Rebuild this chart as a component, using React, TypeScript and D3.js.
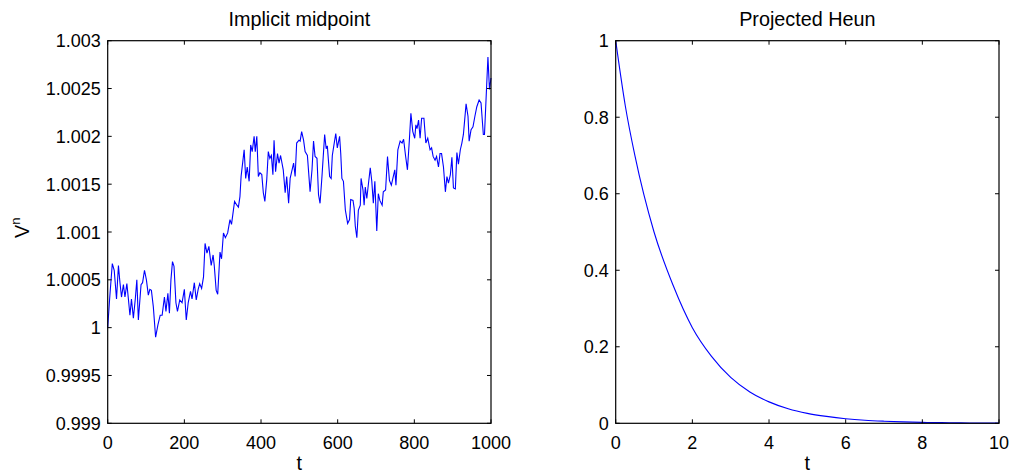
import React from 'react';
import * as d3 from 'd3';

// Implicit midpoint: t and V^n
const midT = [
    0, 5, 12, 17, 23, 28, 32, 36, 41, 45, 50, 54, 58, 62, 67, 72, 76, 80, 87, 91,
    96, 101, 106, 110, 114, 119, 125, 131, 137, 142, 148, 152, 157, 161, 165, 169, 173, 178, 182, 188,
    194, 200, 205, 210, 216, 220, 226, 231, 236, 240, 245, 250, 254, 259, 264, 270, 275, 278, 283, 287,
    293, 297, 302, 307, 313, 319, 323, 331, 337, 341, 345, 348, 352, 356, 360, 364, 369, 373, 377, 382,
    385, 389, 393, 397, 402, 406, 410, 415, 419, 423, 427, 431, 434, 438, 443, 447, 451, 458, 463, 467,
    472, 476, 480, 485, 489, 493, 499, 502, 506, 511, 515, 521, 528, 533, 537, 541, 546, 550, 554, 559,
    566, 570, 573, 579, 583, 586, 591, 595, 599, 605, 608, 611, 615, 620, 626, 631, 634, 640, 643, 646,
    650, 654, 659, 661, 666, 669, 672, 676, 679, 685, 689, 693, 697, 702, 706, 710, 716, 719, 725, 730,
    735, 740, 744, 749, 752, 757, 763, 768, 772, 777, 782, 787, 791, 796, 801, 804, 807, 811, 815, 819,
    825, 830, 835, 841, 845, 849, 854, 858, 863, 867, 871, 876, 881, 885, 889, 894, 898, 902, 907, 911,
    915, 920, 924, 928, 935, 940, 943, 948, 953, 958, 963, 969, 974, 980, 983, 987, 992, 996, 1000
];
const midV = [
    1.0000, 1.0003, 1.00067, 1.0006, 1.0003, 1.00065, 1.00047, 1.00032, 1.00045, 1.00032, 1.00046, 1.0003, 1.00013, 1.0003, 1.0001, 1.0003, 1.0005, 1.00008, 1.00045, 1.00047,
    1.0006, 1.0005, 1.00034, 1.0004, 1.00039, 1.00022, 0.9999, 1.00003, 1.00013, 1.00013, 1.00032, 1.00017, 1.00036, 1.00015, 1.0005, 1.00069, 1.00064, 1.00026, 1.00017, 1.00029,
    1.00026, 1.0004, 1.00008, 1.00026, 1.00038, 1.0003, 1.00047, 1.00029, 1.0004, 1.00046, 1.00041, 1.00053, 1.00088, 1.00078, 1.00085, 1.00065, 1.00076, 1.00065, 1.00039, 1.00035,
    1.00079, 1.00072, 1.00099, 1.00094, 1.00099, 1.00113, 1.00108, 1.00132, 1.00128, 1.00126, 1.00137, 1.00158, 1.00172, 1.00186, 1.00156, 1.00168, 1.00153, 1.00191, 1.00184, 1.002,
    1.00184, 1.002, 1.00158, 1.00162, 1.0016, 1.00141, 1.00132, 1.00155, 1.00184, 1.00177, 1.0018, 1.0016, 1.00196, 1.00163, 1.00182, 1.00172, 1.0018, 1.00165, 1.00141, 1.00158,
    1.0013, 1.00156, 1.00163, 1.00172, 1.00158, 1.00193, 1.00196, 1.00195, 1.00205, 1.00196, 1.00184, 1.0018, 1.00142, 1.00165, 1.00195, 1.00179, 1.00177, 1.00139, 1.0013, 1.00158,
    1.00202, 1.00187, 1.0019, 1.00158, 1.00156, 1.0018, 1.00193, 1.00203, 1.00188, 1.002, 1.00182, 1.00156, 1.00153, 1.00123, 1.00109, 1.00113, 1.00134, 1.00133, 1.00125, 1.00106,
    1.00094, 1.00123, 1.00128, 1.00156, 1.00144, 1.00128, 1.00147, 1.00135, 1.00146, 1.00167, 1.00153, 1.0013, 1.00153, 1.00101, 1.0014, 1.00133, 1.00128, 1.00142, 1.00144, 1.00179,
    1.00154, 1.00149, 1.00156, 1.00165, 1.00149, 1.00186, 1.00195, 1.00193, 1.00197, 1.0018, 1.00165, 1.00196, 1.00224, 1.00205, 1.00198, 1.00212, 1.00208, 1.00217, 1.00198, 1.00219,
    1.00219, 1.00193, 1.00198, 1.00186, 1.00188, 1.00179, 1.00175, 1.00179, 1.00168, 1.00182, 1.00182, 1.00168, 1.00142, 1.00158, 1.00151, 1.0016, 1.00178, 1.00146, 1.00145, 1.00183,
    1.00171, 1.00186, 1.00193, 1.00202, 1.00234, 1.00221, 1.00195, 1.00207, 1.0021, 1.00221, 1.00231, 1.00238, 1.00235, 1.00202, 1.00202, 1.00238, 1.00283, 1.00249, 1.00261
];

// Projected Heun decay
const heunT = [0, 0.25, 0.5, 1, 1.5, 2, 2.5, 3, 3.5, 4, 4.5, 5, 5.5, 6, 6.5, 7, 7.5, 8, 8.5, 9, 9.5, 10];
const heunV = [1, 0.83, 0.70, 0.50, 0.36, 0.25, 0.175, 0.12, 0.082, 0.056, 0.038, 0.026, 0.018, 0.012, 0.008, 0.0055, 0.0037, 0.0025, 0.0017, 0.0011, 0.0008, 0.0005];

const midYTicks = [0.999, 0.9995, 1, 1.0005, 1.001, 1.0015, 1.002, 1.0025, 1.003];
const midXTicks = [0, 200, 400, 600, 800, 1000];
const heunYTicks = [0, 0.2, 0.4, 0.6, 0.8, 1];
const heunXTicks = [0, 2, 4, 6, 8, 10];

const FONT = 'Liberation Sans, Arial, Helvetica, sans-serif';
const TOP = 40.7;
const BOTTOM = 423.3;
const TICK = 4;

interface PanelProps {
    left: number;
    right: number;
    title: string;
    xs: number[];
    ys: number[];
    xDomain: [number, number];
    yDomain: [number, number];
    xTicks: number[];
    yTicks: number[];
    ylabel?: boolean;
    curve?: d3.CurveFactory;
}

const fmt = (v: number) => String(+v.toFixed(4));

const Panel: React.FC<PanelProps> = ({ left, right, title, xs, ys, xDomain, yDomain, xTicks, yTicks, ylabel, curve }) => {
    const x = d3.scaleLinear().domain(xDomain).range([left, right]);
    const y = d3.scaleLinear().domain(yDomain).range([BOTTOM, TOP]);
    const pts: [number, number][] = xs.map((t, i) => [t, ys[i]]);
    const path = d3.line<[number, number]>()
        .x(d => x(d[0]))
        .y(d => y(d[1]))
        .curve(curve ?? d3.curveLinear)(pts) ?? '';
    const cx = (left + right) / 2;

    return (
        <g fontFamily={FONT}>
            <path d={path} fill="none" stroke="#0000ff" strokeWidth={1.1} />
            <rect x={left} y={TOP} width={right - left} height={BOTTOM - TOP} fill="none" stroke="#000" strokeWidth={1.2} />
            {xTicks.map(t => (
                <g key={'x' + t}>
                    <line x1={x(t)} x2={x(t)} y1={BOTTOM} y2={BOTTOM - TICK} stroke="#000" />
                    <line x1={x(t)} x2={x(t)} y1={TOP} y2={TOP + TICK} stroke="#000" />
                    <text x={x(t)} y={449} fontSize={18} textAnchor="middle">{fmt(t)}</text>
                </g>
            ))}
            {yTicks.map(v => (
                <g key={'y' + v}>
                    <line x1={left} x2={left + TICK} y1={y(v)} y2={y(v)} stroke="#000" />
                    <line x1={right} x2={right - TICK} y1={y(v)} y2={y(v)} stroke="#000" />
                    <text x={left - 7} y={y(v) + 6.5} fontSize={18} textAnchor="end">{fmt(v)}</text>
                </g>
            ))}
            <text x={cx} y={26} fontSize={19.8} textAnchor="middle">{title}</text>
            <text x={cx} y={470} fontSize={19.8} textAnchor="middle">t</text>
            {ylabel && (
                <text transform={`translate(29,238) rotate(-90)`} fontSize={19.8} textAnchor="start">
                    V<tspan fontSize={13} dy={-9}>n</tspan>
                </text>
            )}
        </g>
    );
};

const App: React.FC = () => {
    return (
        <svg width={1012} height={473} style={{ position: 'absolute', left: 0, top: 0, background: '#fff' }}>
            <rect width={1012} height={473} fill="#fff" />
            <Panel
                left={107.7}
                right={491}
                title="Implicit midpoint"
                xs={midT}
                ys={midV}
                xDomain={[0, 1000]}
                yDomain={[0.999, 1.003]}
                xTicks={midXTicks}
                yTicks={midYTicks}
                ylabel
            />
            <Panel
                left={615.7}
                right={999}
                title="Projected Heun"
                xs={heunT}
                ys={heunV}
                xDomain={[0, 10]}
                yDomain={[0, 1]}
                xTicks={heunXTicks}
                yTicks={heunYTicks}
                curve={d3.curveMonotoneX}
            />
        </svg>
    );
};

export default App;
